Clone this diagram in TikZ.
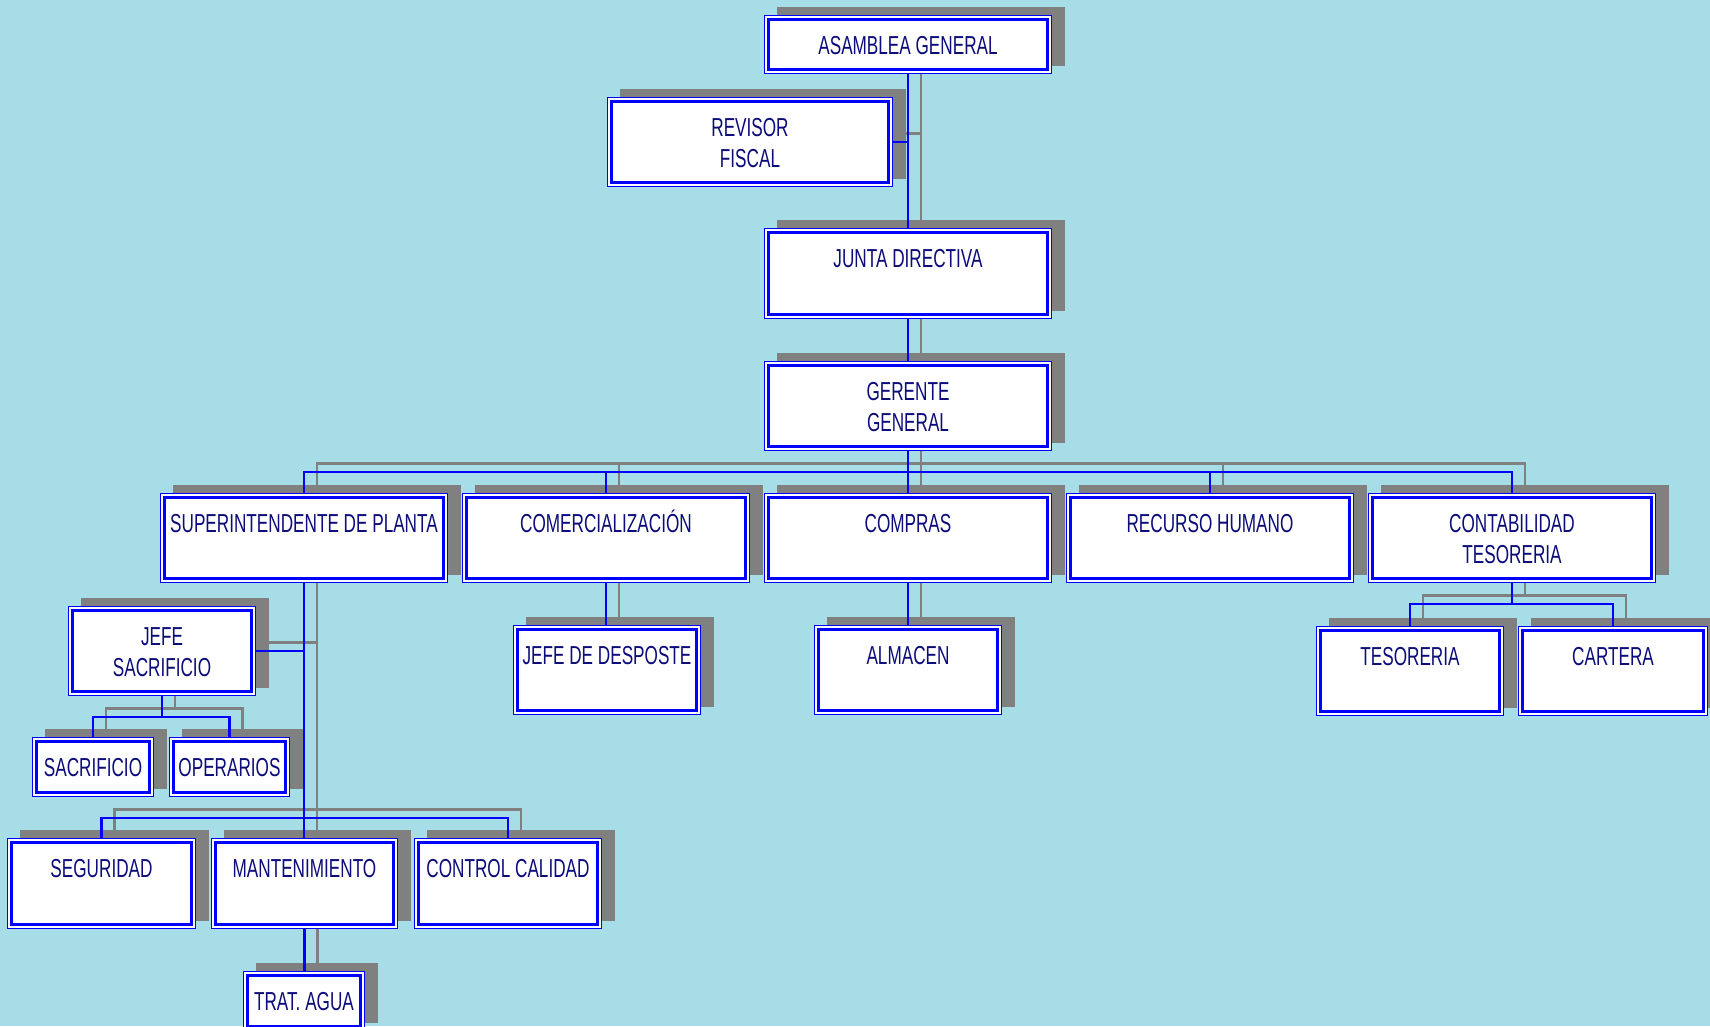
\documentclass[tikz,border=0pt]{standalone}
\usepackage{fontspec}
\setmainfont{Liberation Sans}[FakeStretch=0.66]
\pgfdeclarelayer{bg}
\pgfdeclarelayer{mid}
\pgfsetlayers{bg,mid,main}
\definecolor{bgcyan}{RGB}{166,221,231}
\definecolor{boxblue}{RGB}{0,0,255}
\definecolor{shadowgray}{RGB}{128,128,128}
\definecolor{navytext}{RGB}{12,12,122}
\tikzset{
  obox/.style={draw=boxblue, line width=1.3pt, fill=white, inner sep=0pt, outer sep=0pt,
    path picture={\draw[boxblue, line width=3pt]
      ([xshift=4.15pt,yshift=-4.15pt]path picture bounding box.north west) rectangle
      ([xshift=-4.15pt,yshift=4.15pt]path picture bounding box.south east);}},
  otext/.style={anchor=north, inner sep=0pt, align=center, text=navytext,
    font=\fontsize{26}{31}\selectfont},
  blueline/.style={boxblue, line width=2.9pt},
  grayline/.style={shadowgray, line width=2.3pt, transform canvas={xshift=13pt, yshift=8.5pt}}
}
\newcommand\orgbox[6]{%
  \begin{pgfonlayer}{bg}
    \fill[shadowgray] ({#2+13},{#3-8}) rectangle ({#4+13},{#5-8});
  \end{pgfonlayer}
  \node[obox, minimum width={#4-#2-1.3}, minimum height={#5-#3-1.3}] (#1) at ({(#2+#4)/2},{(#3+#5)/2}) {};
  \node[otext] (#1-t) at ({(#2+#4)/2},{#3+15}) {\rule{0pt}{24pt}#6};
}
\newcommand\link[1]{%
  \begin{pgfonlayer}{bg}\draw[grayline] #1;\end{pgfonlayer}
  \begin{pgfonlayer}{mid}\draw[blueline] #1;\end{pgfonlayer}}
\begin{document}
\begin{tikzpicture}[x=1pt,y=-1pt]
\useasboundingbox (0,0) rectangle (1710,1026);
\begin{pgfonlayer}{bg}
  \fill[bgcyan] (0,0) rectangle (1710,1026);
\end{pgfonlayer}
\orgbox{asam}{764}{15}{1052}{74}{ASAMBLEA GENERAL}
\orgbox{revisor}{607}{97}{893}{187}{REVISOR\\FISCAL}
\orgbox{junta}{764}{228}{1052}{319}{JUNTA DIRECTIVA}
\orgbox{gerente}{764}{361}{1052}{451}{GERENTE\\GENERAL}
\orgbox{super}{160}{493}{448}{583}{SUPERINTENDENTE DE PLANTA}
\orgbox{comer}{462}{493}{750}{583}{COMERCIALIZACIÓN}
\orgbox{compras}{764}{493}{1052}{583}{COMPRAS}
\orgbox{recurso}{1066}{493}{1354}{583}{RECURSO HUMANO}
\orgbox{contab}{1368}{493}{1656}{583}{CONTABILIDAD\\TESORERIA}
\orgbox{jefe}{68}{606}{256}{696}{JEFE\\SACRIFICIO}
\orgbox{sacr}{32}{737}{154}{797}{SACRIFICIO}
\orgbox{oper}{169}{737}{290}{797}{OPERARIOS}
\orgbox{desposte}{513}{625}{701}{715}{JEFE DE DESPOSTE}
\orgbox{almacen}{814}{625}{1002}{715}{ALMACEN}
\orgbox{teso}{1316}{626}{1504}{716}{TESORERIA}
\orgbox{cartera}{1518}{626}{1708}{716}{CARTERA}
\orgbox{seg}{7}{838}{196}{929}{SEGURIDAD}
\orgbox{mant}{211}{838}{398}{929}{MANTENIMIENTO}
\orgbox{control}{414}{838}{602}{929}{CONTROL CALIDAD}
\orgbox{trat}{243}{971}{365}{1031}{TRAT. AGUA}
\coordinate (bus1) at (0,472);
\coordinate (bus3) at (0,717);
\coordinate (bus4) at (0,818);
\coordinate (bus5) at (0,604);
\link{(asam.south) -- (asam.south |- junta.north)}
\link{(revisor.east) -- (revisor.east -| asam.south)}
\link{(junta.south) -- (gerente.north)}
\foreach \c in {super,comer,compras,recurso,contab}{
  \link{(gerente.south) -- (gerente.south |- bus1) -| (\c.north)}
}
\link{(super.south) -- (super.south |- mant.north)}
\link{(jefe.east) -- (jefe.east -| super.south)}
\link{(seg.north) -- (seg.north |- bus4) -- (control.north |- bus4) -- (control.north)}
\link{(jefe.south) -- (jefe.south |- bus3)}
\link{(sacr.north) -- (sacr.north |- bus3) -- (oper.north |- bus3) -- (oper.north)}
\link{(comer.south) -- (comer.south |- desposte.north)}
\link{(compras.south) -- (compras.south |- almacen.north)}
\link{(contab.south) -- (contab.south |- bus5)}
\link{(teso.north) -- (teso.north |- bus5) -- (cartera.north |- bus5) -- (cartera.north)}
\link{(mant.south) -- (mant.south |- trat.north)}
\end{tikzpicture}
\end{document}
